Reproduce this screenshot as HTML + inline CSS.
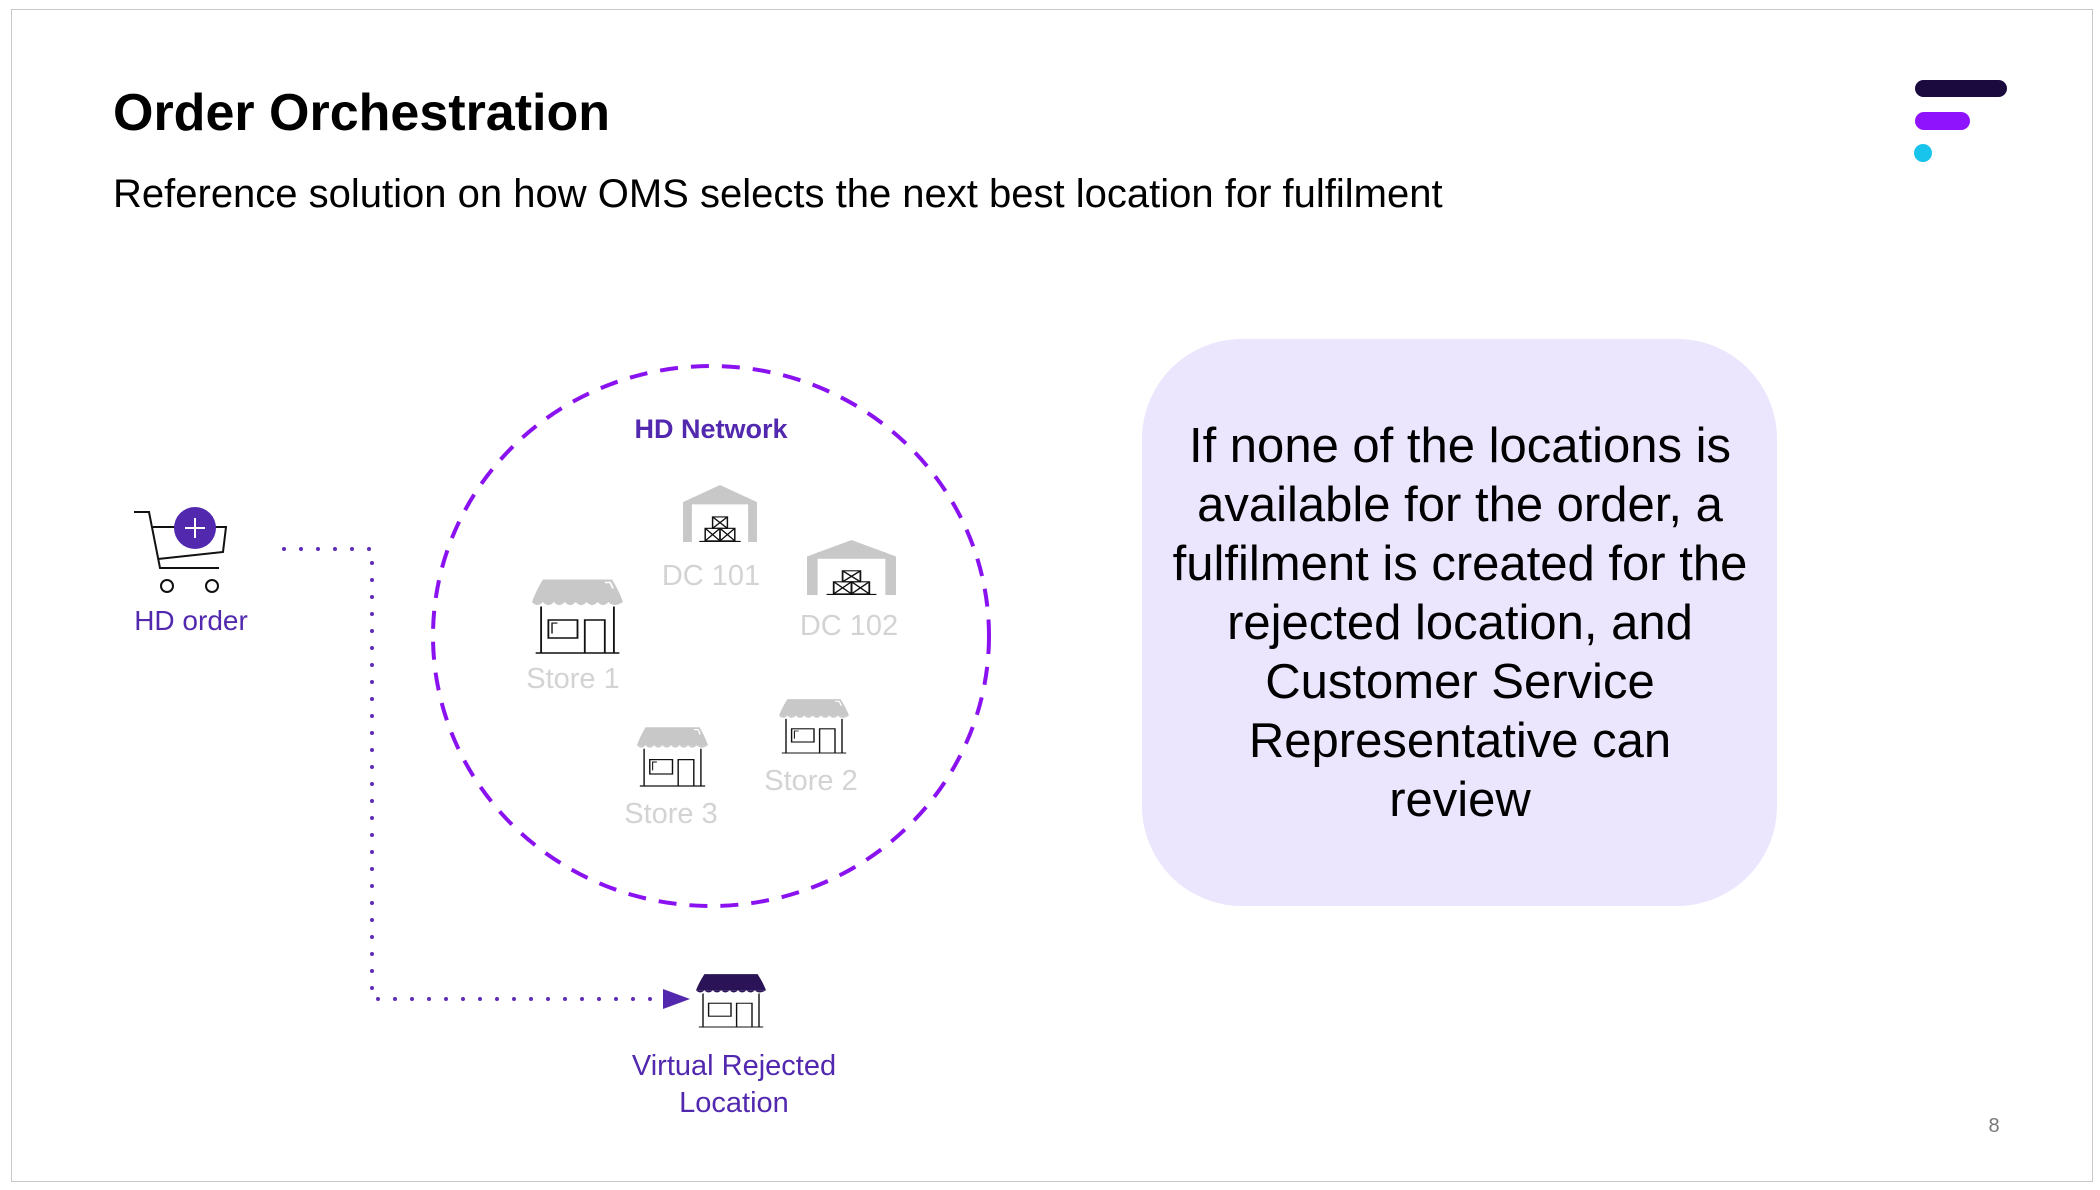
<!DOCTYPE html>
<html><head><meta charset="utf-8"><style>
html,body{margin:0;padding:0;background:#fff;}
body{width:2100px;height:1190px;position:relative;overflow:hidden;font-family:"Liberation Sans",Arial,sans-serif;}
.t{position:absolute;white-space:nowrap;}
.c{transform:translateX(-50%);text-align:center;}
.g{color:#d3d3d3;font-size:29px;}
</style></head><body>
<div style="position:absolute;left:11px;top:9px;width:2080px;height:1171px;border:1.5px solid #c8c8c8;"></div>
<div class="t" style="left:113px;top:83px;font-size:52px;font-weight:bold;color:#000;">Order Orchestration</div>
<div class="t" style="left:113px;top:172px;font-size:40px;color:#000;">Reference solution on how OMS selects the next best location for fulfilment</div>
<div style="position:absolute;left:1915px;top:80px;width:92px;height:17px;border-radius:9px;background:#1a0a3d;"></div>
<div style="position:absolute;left:1915px;top:112px;width:55px;height:18px;border-radius:9px;background:#9013fe;"></div>
<div style="position:absolute;left:1914px;top:144px;width:18px;height:18px;border-radius:50%;background:#18c3ec;"></div>

<div style="position:absolute;left:1142px;top:339px;width:635px;height:567px;border-radius:100px;background:#ebe6fd;"></div>
<div class="t c" style="left:1460px;top:417px;font-size:49px;line-height:59px;color:#000;">If none of the locations is<br>available for the order, a<br>fulfilment is created for the<br>rejected location, and<br>Customer Service<br>Representative can<br>review</div>

<svg width="2100" height="1190" style="position:absolute;left:0;top:0">
<defs>
<g id="store">
<path d="M12 2 H88 Q96 18 100 32 H0 Q4 18 12 2Z" fill="#c8c8c8"/>
<path d="M0 32 q6 8 12 0 q6 8 12 0 q6 8 12 0 q6 8 12 0 q6 8 12 0 q6 8 12 0 q6 8 12 0 q6 8 16 0" fill="#c8c8c8"/>
<path d="M80 6 h6 l3 8" stroke="#fff" stroke-width="2" fill="none"/>
<path d="M10 38 V100 M90 38 V100 M4 100 H96" stroke="#111" stroke-width="2" fill="none"/>
<rect x="18" y="56" width="32" height="24" stroke="#111" stroke-width="2" fill="none"/>
<path d="M22 74 V60 H28" stroke="#111" stroke-width="1.5" fill="none"/>
<path d="M58 100 V56 H80 V100" stroke="#111" stroke-width="2" fill="none"/>
</g>
<g id="dc">
<path d="M0 30 L50 0 L100 30 V100 H88 V34 H12 V100 H0Z" fill="#c8c8c8"/>
<rect x="12" y="22" width="76" height="6" fill="#c8c8c8"/>
<g stroke="#111" stroke-width="2" fill="none">
<rect x="40" y="56" width="20" height="20"/><path d="M40 56 L60 76 M60 56 L40 76"/>
<rect x="30" y="76" width="20" height="22"/><path d="M30 76 L50 98 M50 76 L30 98"/>
<rect x="50" y="76" width="20" height="22"/><path d="M50 76 L70 98 M70 76 L50 98"/>
<path d="M22 99 H78"/>
</g>
</g>
</defs>
<ellipse cx="711" cy="636" rx="278" ry="270" fill="none" stroke="#8a12f0" stroke-width="4" stroke-dasharray="18 13"/>
<use href="#dc" transform="translate(683,485) scale(0.74,0.57)"/>
<use href="#dc" transform="translate(807,540) scale(0.89,0.55)"/>
<use href="#store" transform="translate(532,578) scale(0.91,0.75)"/>
<use href="#store" transform="translate(779,698) scale(0.70,0.55)"/>
<use href="#store" transform="translate(637,726) scale(0.71,0.60)"/>
<g transform="translate(696,973) scale(0.70,0.54)">
<path d="M12 2 H88 Q96 18 100 32 H0 Q4 18 12 2Z" fill="#2a1457"/>
<path d="M0 32 q6 8 12 0 q6 8 12 0 q6 8 12 0 q6 8 12 0 q6 8 12 0 q6 8 12 0 q6 8 12 0 q6 8 16 0" fill="#2a1457"/>
<path d="M10 38 V100 M90 38 V100 M4 100 H96" stroke="#111" stroke-width="2" fill="none"/>
<rect x="18" y="56" width="32" height="24" stroke="#111" stroke-width="2" fill="none"/>
<path d="M58 100 V56 H80 V100" stroke="#111" stroke-width="2" fill="none"/>
</g>
<!-- cart -->
<g stroke="#111" stroke-width="2" fill="none">
<path d="M134 512 H149 L160 568 H219"/>
<path d="M153 527 H226 L223 552 L158 559"/>
<circle cx="167" cy="586" r="6"/><circle cx="212" cy="586" r="6"/>
</g>
<circle cx="195" cy="528" r="21" fill="#5229ae"/>
<path d="M185 528 H205 M195 518 V538" stroke="#fff" stroke-width="2"/>
<path d="M284 549 H372 V999 H665" stroke="#5f2bb8" stroke-width="4" stroke-linecap="round" stroke-dasharray="0 17" fill="none"/>
<path d="M663 989 L690 999 L663 1009Z" fill="#5229ae"/>
</svg>

<div class="t c" style="left:191px;top:605px;font-size:28px;color:#5229ae;">HD order</div>
<div class="t c" style="left:711px;top:414px;font-size:27px;font-weight:bold;color:#5229ae;">HD Network</div>
<div class="t c g" style="left:711px;top:560px;">DC 101</div>
<div class="t c g" style="left:849px;top:610px;">DC 102</div>
<div class="t c g" style="left:573px;top:663px;">Store 1</div>
<div class="t c g" style="left:811px;top:765px;">Store 2</div>
<div class="t c g" style="left:671px;top:798px;">Store 3</div>
<div class="t c" style="left:734px;top:1048px;font-size:29px;line-height:37px;color:#5229ae;">Virtual Rejected<br>Location</div>
<div class="t c" style="left:1994px;top:1115px;font-size:20px;color:#777;">8</div>
</body></html>
